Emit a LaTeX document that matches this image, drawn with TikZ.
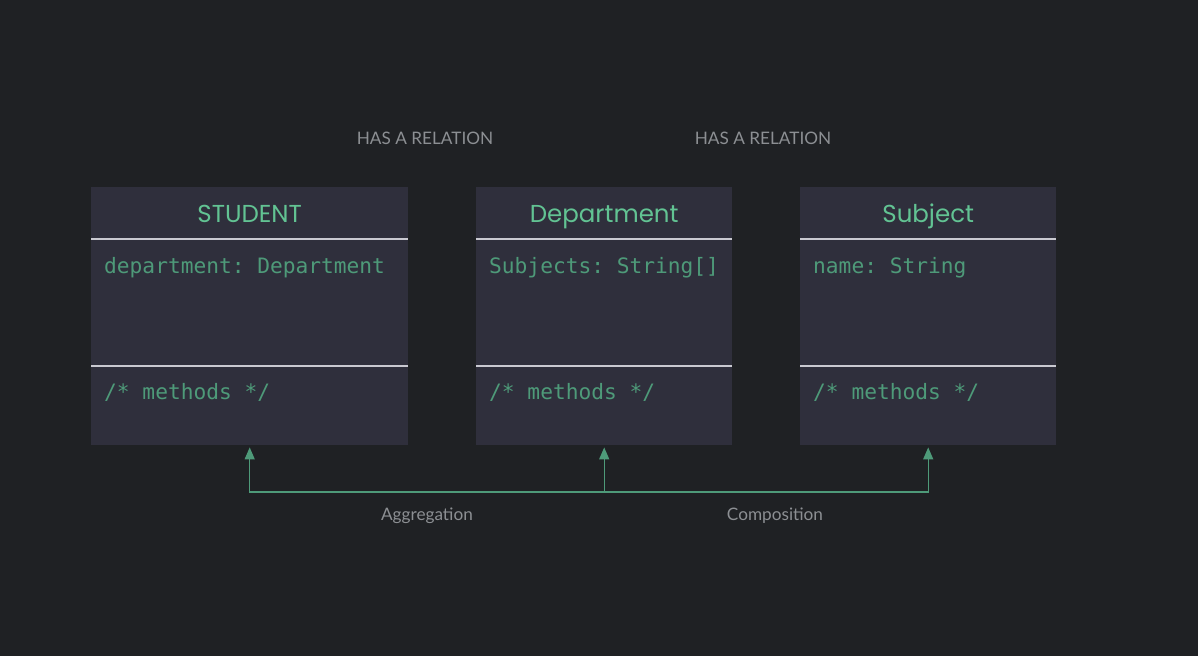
\documentclass[tikz,border=0pt]{standalone}
\usepackage{fontspec}
\setmainfont{Poppins}
\setmonofont{DejaVu Sans Mono}
\newfontfamily\notefont{Lato}
\usetikzlibrary{positioning, arrows.meta}

\definecolor{bgdark}{HTML}{1F2124}
\definecolor{boxfill}{HTML}{2F2F3C}
\definecolor{titlegreen}{HTML}{62C393}
\definecolor{codegreen}{HTML}{4E9A79}
\definecolor{rulegray}{HTML}{C9C9D1}
\definecolor{notegray}{HTML}{8C8F93}

\tikzset{
	classbox/.style = {fill = boxfill, inner sep = 0pt, minimum height = 258pt, anchor = north west},
	classname/.style = {text = titlegreen, font = \fontsize{24.5}{28}\selectfont, anchor = base, inner sep = 0pt},
	member/.style = {text = codegreen, font = \ttfamily\fontsize{21.2}{25}\selectfont, anchor = base west, inner sep = 0pt},
	note/.style = {text = notegray, font = \notefont\fontsize{17.2}{20}\selectfont},
	divider/.style = {rulegray, line width = 1.5pt},
	link/.style = {codegreen, line width = 1.3pt}
}

\begin{document}
\begin{tikzpicture}[x = 1pt, y = -1pt, > = {Triangle[length = 12pt, width = 10pt]}]

	% Background

	\fill [bgdark] (0, 0) rectangle (1198, 656);

	% Class boxes

	\node [classbox, minimum width = 317pt] (student) at (91, 187) {};
	\node [classbox, minimum width = 256pt] (department) at (476, 187) {};
	\node [classbox, minimum width = 256pt] (subject) at (800, 187) {};

	% Names, dividers and members

	\foreach \cls/\name/\field in {student/STUDENT/department: Department, department/Department/Subjects: String[], subject/Subject/name: String}
	{
		\node [classname] (\cls-name) at ([yshift = -35pt] \cls.north) {\name};
		\draw [divider] ([yshift = -52pt] \cls.north west) -- ([yshift = -52pt] \cls.north east);
		\draw [divider] ([yshift = -179pt] \cls.north west) -- ([yshift = -179pt] \cls.north east);
		\node [member] (\cls-field) at ([xshift = 13pt, yshift = -86pt] \cls.north west) {\field};
		\node [member] (\cls-methods) at ([xshift = 13pt, yshift = -212pt] \cls.north west) {/* methods */};
	}

	% Relation captions

	\node [note] (has-left) at (425, 138) {HAS A RELATION};
	\node [note] (has-right) at (763, 138) {HAS A RELATION};

	% Connectors

	\draw [link, <->] ([yshift = -2pt] student.south) -- (student.south |- 0, 492) -| ([yshift = -2pt] subject.south);
	\draw [link, ->] (department.south |- 0, 492) -- ([yshift = -2pt] department.south);

	\node [note] (aggregation) at (427, 516) {Aggregation};
	\node [note] (composition) at (775, 516) {Composition};

\end{tikzpicture}
\end{document}
